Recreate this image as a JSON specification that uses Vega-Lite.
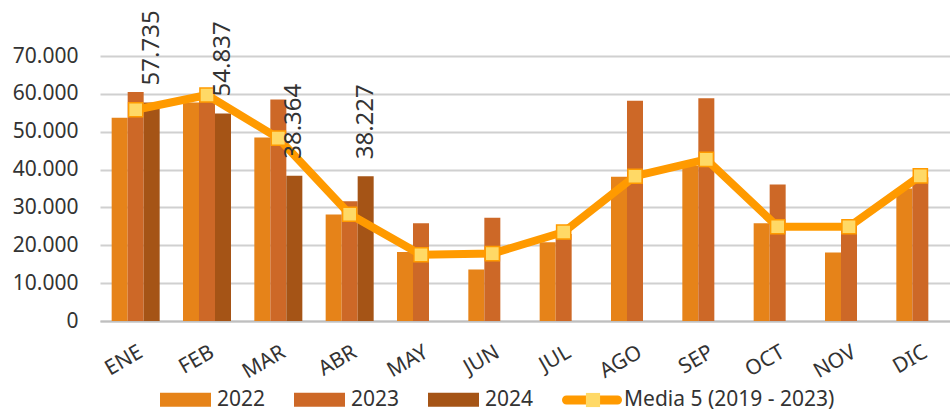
{
  "$schema": "https://vega.github.io/schema/vega-lite/v6.json",
  "autosize": {"type": "none"},
  "width": 856,
  "height": 265,
  "padding": {"left": 100, "top": 56, "right": 0, "bottom": 90},
  "background": "white",
  "config": {
    "locale": {"number": {"decimal": ",", "thousands": ".", "grouping": [3], "currency": ["", " €"]}},
    "view": {"stroke": null},
    "font": "Noto Sans",
    "axis": {"labelFont": "Noto Sans", "labelColor": "#333333"},
    "legend": {"labelFont": "Noto Sans", "labelColor": "#333333", "labelLimit": 400}
  },
  "datasets": {
    "bars": [
      {"mes": "ENE", "anio": "2022", "valor": 53700},
      {"mes": "ENE", "anio": "2023", "valor": 60500},
      {"mes": "ENE", "anio": "2024", "valor": 57735},
      {"mes": "FEB", "anio": "2022", "valor": 57700},
      {"mes": "FEB", "anio": "2023", "valor": 59500},
      {"mes": "FEB", "anio": "2024", "valor": 54837},
      {"mes": "MAR", "anio": "2022", "valor": 48500},
      {"mes": "MAR", "anio": "2023", "valor": 58500},
      {"mes": "MAR", "anio": "2024", "valor": 38364},
      {"mes": "ABR", "anio": "2022", "valor": 28150},
      {"mes": "ABR", "anio": "2023", "valor": 31600},
      {"mes": "ABR", "anio": "2024", "valor": 38227},
      {"mes": "MAY", "anio": "2022", "valor": 18200},
      {"mes": "MAY", "anio": "2023", "valor": 25850},
      {"mes": "JUN", "anio": "2022", "valor": 13600},
      {"mes": "JUN", "anio": "2023", "valor": 27300},
      {"mes": "JUL", "anio": "2022", "valor": 20800},
      {"mes": "JUL", "anio": "2023", "valor": 23000},
      {"mes": "AGO", "anio": "2022", "valor": 38100},
      {"mes": "AGO", "anio": "2023", "valor": 58200},
      {"mes": "SEP", "anio": "2022", "valor": 41000},
      {"mes": "SEP", "anio": "2023", "valor": 58850},
      {"mes": "OCT", "anio": "2022", "valor": 25800},
      {"mes": "OCT", "anio": "2023", "valor": 36050},
      {"mes": "NOV", "anio": "2022", "valor": 18100},
      {"mes": "NOV", "anio": "2023", "valor": 25500},
      {"mes": "DIC", "anio": "2022", "valor": 35000},
      {"mes": "DIC", "anio": "2023", "valor": 38000}
    ],
    "media": [
      {"mes": "ENE", "valor": 55800},
      {"mes": "FEB", "valor": 59700},
      {"mes": "MAR", "valor": 48300},
      {"mes": "ABR", "valor": 28200},
      {"mes": "MAY", "valor": 17500},
      {"mes": "JUN", "valor": 17800},
      {"mes": "JUL", "valor": 23500},
      {"mes": "AGO", "valor": 38250},
      {"mes": "SEP", "valor": 42700},
      {"mes": "OCT", "valor": 24900},
      {"mes": "NOV", "valor": 24900},
      {"mes": "DIC", "valor": 38350}
    ]
  },
  "encoding": {
    "x": {
      "field": "mes", "type": "nominal",
      "sort": ["ENE","FEB","MAR","ABR","MAY","JUN","JUL","AGO","SEP","OCT","NOV","DIC"],
      "scale": {"paddingInner": 0.327, "paddingOuter": 0.1635},
      "axis": {"title": null, "labelAngle": -30, "labelAlign": "right", "labelBaseline": "top", "labelFontSize": 21, "labelPadding": 20, "labelDx": -5, "ticks": false, "domain": true, "domainColor": "#BFBFBF", "domainWidth": 2, "grid": false}
    },
    "y": {
      "field": "valor", "type": "quantitative",
      "scale": {"domain": [0, 70000], "nice": false},
      "axis": {"title": null, "values": [0,10000,20000,30000,40000,50000,60000,70000], "format": ",.0f", "labelFontSize": 21, "labelPadding": 22, "ticks": false, "domain": false, "gridColor": "#D0D0D0", "gridWidth": 2}
    }
  },
  "layer": [
    {
      "data": {"name": "bars"},
      "mark": {"type": "bar"},
      "encoding": {
        "xOffset": {"field": "anio", "type": "nominal", "scale": {"domain": ["2022","2023","2024"], "paddingInner": 0, "paddingOuter": 0}},
        "fill": {
          "field": "anio", "type": "nominal",
          "scale": {"domain": ["2022","2023","2024"], "range": ["#E68319","#CD6827","#A55416"]},
          "legend": {
            "title": null, "orient": "none", "direction": "horizontal", "legendX": 60, "legendY": 318,
            "symbolType": "M-1,-0.275H1V0.275H-1Z", "symbolSize": 2601, "symbolStrokeWidth": 0,
            "labelFontSize": 21, "labelOffset": 6, "columnPadding": 28, "padding": 0
          }
        }
      }
    },
    {
      "data": {"name": "media"},
      "mark": {"type": "line", "strokeWidth": 8, "strokeJoin": "round", "strokeCap": "round"},
      "encoding": {
        "stroke": {
          "datum": "Media 5 (2019 - 2023)",
          "scale": {"range": ["#FF9A00"]},
          "legend": {
            "title": null, "orient": "none", "legendX": 462, "legendY": 314,
            "symbolType": "M-0.85,-0.15H0.85A0.15,0.15 0 0 1 0.85,0.15H-0.85A0.15,0.15 0 0 1 -0.85,-0.15Z",
            "symbolSize": 3600, "symbolFillColor": "#FF9A00", "symbolStrokeWidth": 0,
            "labelFontSize": 21, "labelOffset": 2, "labelLimit": 400, "padding": 0
          }
        }
      }
    },
    {
      "data": {"name": "media"},
      "mark": {"type": "point", "filled": true, "fill": "#FFD966", "stroke": "#FF9A00", "strokeWidth": 1.5, "size": 200, "opacity": 1},
      "encoding": {
        "shape": {
          "datum": "Media",
          "scale": {"range": ["square"]},
          "legend": {
            "title": null, "orient": "none", "legendX": 483, "legendY": 334,
            "symbolSize": 200, "symbolFillColor": "#FFD966", "symbolStrokeColor": "#FF9A00", "symbolStrokeWidth": 1.5, "symbolOpacity": 1,
            "labelExpr": "''", "labelFontSize": 20, "padding": 0
          }
        }
      }
    },
    {
      "data": {"name": "bars"},
      "transform": [{"filter": "datum.anio == '2024'"}],
      "mark": {"type": "text", "angle": -90, "align": "left", "baseline": "middle", "dx": 17, "fontSize": 24, "color": "#333333"},
      "encoding": {
        "xOffset": {"field": "anio", "type": "nominal", "scale": {"domain": ["2022","2023","2024"]}},
        "text": {"field": "valor", "type": "quantitative", "format": ","}
      }
    }
  ]
}
